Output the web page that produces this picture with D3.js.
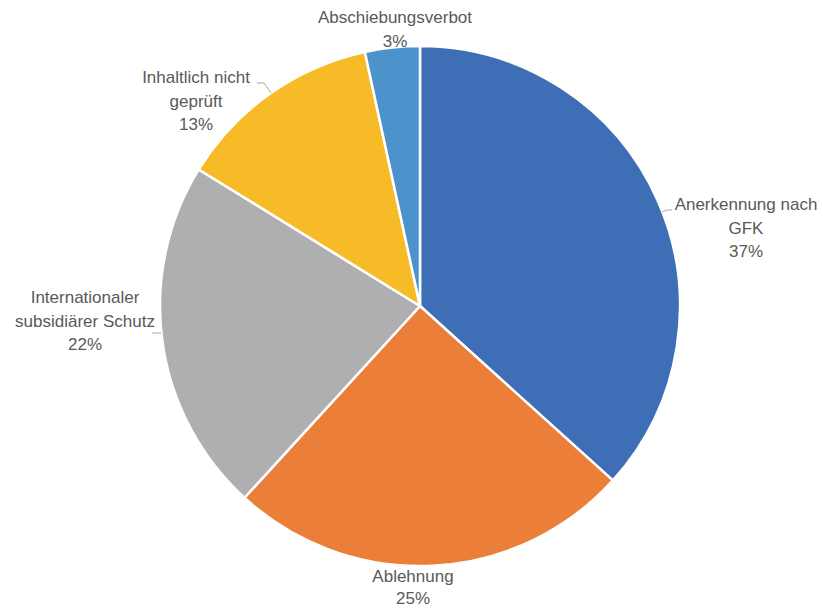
<!DOCTYPE html>
<html>
<head>
<meta charset="utf-8">
<script src="https://cdn.jsdelivr.net/npm/d3@7"></script>
<style>
  body { margin: 0; background: #fff; }
  text { font-family: "Liberation Sans", Arial, sans-serif; font-size: 17px; fill: #595959; }
</style>
</head>
<body>
<div id="chart"></div>
<script>
// Werte aus dem Bild geschätzt (Anteile in %)
const CATEGORIES = ["Anerkennung nach GFK", "Ablehnung", "Internationaler subsidiärer Schutz", "Inhaltlich nicht geprüft", "Abschiebungsverbot"];
const VALUES = [36.7, 25.1, 22.0, 12.8, 3.4];
const LABEL_LINES = [["Anerkennung nach", "GFK"], ["Ablehnung"], ["Internationaler", "subsidiärer Schutz"], ["Inhaltlich nicht", "geprüft"], ["Abschiebungsverbot"]];
const COLORS = ["#3E6EB5", "#EB7F3A", "#AFAFB2", "#F8BB28", "#4C93CB"];

const width = 823, height = 609;
const cx = 420, cy = 306, radius = 260;

const svg = d3.select('#chart').append('svg')
  .attr('width', width)
  .attr('height', height);

const g = svg.append('g').attr('transform', `translate(${cx},${cy})`);

const pie = d3.pie().sort(null).value(d => d);
const arcs = pie(VALUES);
const arc = d3.arc().innerRadius(0).outerRadius(radius);

g.selectAll('path')
  .data(arcs)
  .enter()
  .append('path')
  .attr('d', arc)
  .attr('fill', (d, i) => COLORS[i])
  .attr('stroke', '#fff')
  .attr('stroke-width', 2.5)
  .attr('stroke-linejoin', 'round');

// label anchors (center of first line), hand placed like the original
const labelPos = [
  { x: 746, y: 210, lh: 23.5 },
  { x: 413, y: 582, lh: 22 },
  { x: 85, y: 303, lh: 23.5 },
  { x: 196, y: 83, lh: 23.5 },
  { x: 395, y: 23, lh: 23.5 }
];
const fmt = v => Math.round(v) + '%';

const labels = svg.append('g');
arcs.forEach((d, i) => {
  const lines = LABEL_LINES[i].concat([fmt(d.value)]);
  const t = labels.append('text')
    .attr('text-anchor', 'middle')
    .attr('x', labelPos[i].x)
    .attr('y', labelPos[i].y);
  lines.forEach((s, k) => {
    t.append('tspan')
      .attr('x', labelPos[i].x)
      .attr('dy', k === 0 ? 0 : labelPos[i].lh)
      .text(s);
  });
});

// leader lines for the labels that sit off to the side
const leaders = [
  { i: 0, pts: [[672, 210], [667, 210]] },
  { i: 2, pts: [[152, 333], [159, 333]] },
  { i: 3, pts: [[257, 83], [264, 83]] }
];
leaders.forEach(l => {
  const a = arcs[l.i];
  // point on the rim closest to the leader end
  let best = null;
  const end = l.pts[1];
  for (let t = a.startAngle; t <= a.endAngle; t += 0.002) {
    const px = cx + Math.sin(t) * radius, py = cy - Math.cos(t) * radius;
    const dd = (px - end[0]) ** 2 + (py - end[1]) ** 2;
    if (!best || dd < best.dd) best = { x: px, y: py, dd };
  }
  svg.append('polyline')
    .attr('points', [l.pts[0], l.pts[1], [best.x, best.y]].map(p => p.join(',')).join(' '))
    .attr('fill', 'none')
    .attr('stroke', '#A6A6A6')
    .attr('stroke-width', 1);
});
</script>
</body>
</html>
